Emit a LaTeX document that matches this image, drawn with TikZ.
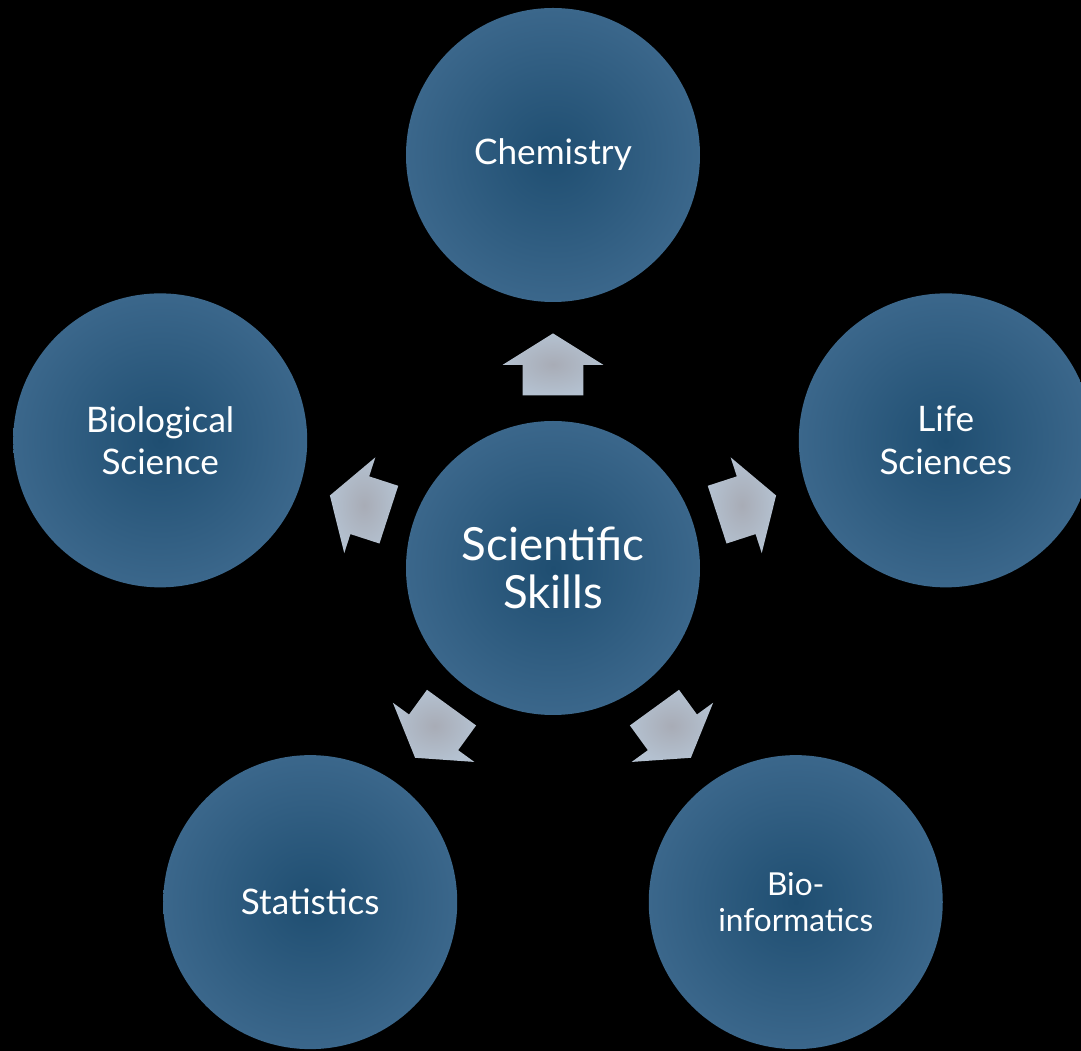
\documentclass[tikz,border=0pt]{standalone}
\usepackage{fontspec}
\setmainfont{Lato}
\usetikzlibrary{shapes.arrows,calc}
\definecolor{bubblein}{HTML}{1F4E71}
\definecolor{bubbleout}{HTML}{4E789D}
\definecolor{arrowin}{HTML}{A8ACB6}
\definecolor{arrowout}{HTML}{B4C1D0}
\pgfdeclareradialshading{bubbleshade}{\pgfpoint{0bp}{0bp}}{color(0bp)=(bubblein); color(42bp)=(bubbleout); color(60bp)=(bubbleout)}
\begin{document}
\begin{tikzpicture}[every node/.style={text=white,align=center},
  bubble/.style={circle,minimum size=5.88cm,shading=bubbleshade,font=\fontsize{20}{24}\selectfont},
  arrowbox/.style={single arrow,minimum height=1.24cm,minimum width=2cm,inner xsep=0pt,inner ysep=0.6cm,
    single arrow head extend=0.4cm,single arrow tip angle=116,
    shading=radial,inner color=arrowin,outer color=arrowout}]

    \fill[black] (-11.06,-9.66) rectangle (10.56,11.36);
    \useasboundingbox (-11.06,-9.66) rectangle (10.56,11.36);

    \node[bubble,font=\fontsize{26}{27}\selectfont] (skills) at (0,0) {Scientific\\Skills};
    \node[bubble] (chem) at (90:8.26) {Chemistry};
    \node[bubble] (life) at (18:8.26) {Life\\Sciences};
    \node[bubble,font=\fontsize{18}{21}\selectfont] (bioinf) at (-54:8.26) {Bio-\\informatics};
    \node[bubble] (stats) at (234:8.26) {Statistics};
    \node[bubble] (biosci) at (162:8.26) {Biological\\Science};

    % arrows out of the middle
    \node[arrowbox,rotate=90] (tochem) at ($(skills)!0.47!(chem)$) {};
    \node[arrowbox,rotate=18] (tolife) at ($(skills)!0.47!(life)$) {};
    \node[arrowbox,rotate=-54] (tobioinf) at ($(skills)!0.47!(bioinf)$) {};
    \node[arrowbox,rotate=234] (tostats) at ($(skills)!0.47!(stats)$) {};
    \node[arrowbox,rotate=162] (tobiosci) at ($(skills)!0.47!(biosci)$) {};
\end{tikzpicture}
\end{document}
